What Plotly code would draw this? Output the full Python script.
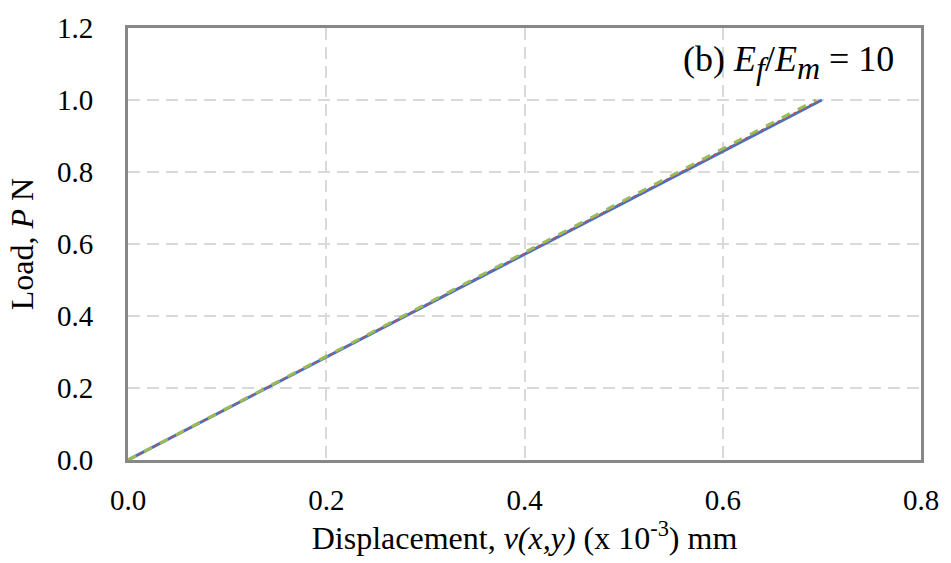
import plotly.graph_objects as go

# Load levels (N) and the mid-span displacement for each model (x 10^-3 mm)
load = [0.0, 0.1, 0.2, 0.3, 0.4, 0.5, 0.6, 0.7, 0.8, 0.9, 1.0]
disp_a = [0.0, 0.070, 0.140, 0.210, 0.280, 0.350, 0.420, 0.490, 0.560, 0.630, 0.700]
disp_b = [0.0, 0.0698, 0.1396, 0.2094, 0.2792, 0.3490, 0.4188, 0.4886, 0.5584, 0.6282, 0.698]
disp_c = [0.0, 0.0694, 0.1388, 0.2082, 0.2776, 0.3470, 0.4164, 0.4858, 0.5552, 0.6246, 0.694]

x_ticks = [0.0, 0.2, 0.4, 0.6, 0.8]
y_ticks = [0.0, 0.2, 0.4, 0.6, 0.8, 1.0, 1.2]

FONT = "Liberation Serif, Times New Roman, serif"
GRID_DASH = "12px,7px"

fig = go.Figure()
fig.add_trace(go.Scatter(x=disp_a, y=load, mode="lines",
                         line=dict(color="#4472C4", width=3)))
fig.add_trace(go.Scatter(x=disp_b, y=load, mode="lines",
                         line=dict(color="#C0504D", width=2, dash="dot")))
fig.add_trace(go.Scatter(x=disp_c, y=load, mode="lines",
                         line=dict(color="#9BBB59", width=3, dash="dash")))

sub = '<sub><span style="font-size:32px"><i>{}</i></span></sub>'
fig.add_annotation(
    x=0.968, y=0.92, xref="paper", yref="paper", xanchor="right", yanchor="middle",
    text="(b) <i>E</i>" + sub.format("f") + "/<i>E</i>" + sub.format("m") + " = 10",
    showarrow=False, font=dict(family=FONT, size=36, color="black"),
)

fig.update_layout(
    width=951, height=563,
    margin=dict(l=128, r=26, t=24, b=103),
    paper_bgcolor="white", plot_bgcolor="white",
    showlegend=False,
    font=dict(family=FONT, size=29, color="black"),
    xaxis=dict(
        range=[0, 0.8], tickvals=x_ticks, ticktext=[f"{v:.1f}" for v in x_ticks],
        showgrid=True, gridcolor="#D9D9D9", gridwidth=2, griddash=GRID_DASH,
        zeroline=False, showline=True, linecolor="#878787", linewidth=3, mirror=True,
        ticks="", ticklabelstandoff=12,
        title=dict(text="Displacement, <i>v(x,y)</i> (x 10<sup>-3</sup>) mm",
                   font=dict(family=FONT, size=32), standoff=6),
    ),
    yaxis=dict(
        range=[0, 1.2], tickvals=y_ticks, ticktext=[f"{v:.1f}" for v in y_ticks],
        showgrid=True, gridcolor="#D9D9D9", gridwidth=2, griddash=GRID_DASH,
        zeroline=False, showline=True, linecolor="#878787", linewidth=3, mirror=True,
        ticks="", ticklabelstandoff=26,
        title=dict(text="Load, <i>P</i> N", font=dict(family=FONT, size=32), standoff=14),
    ),
)

fig.write_html("out.html")
